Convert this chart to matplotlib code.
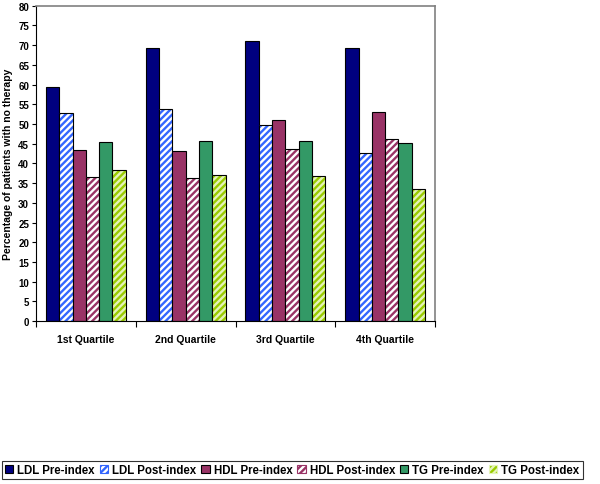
import numpy as np
import matplotlib.pyplot as plt
from matplotlib.patches import Patch

# --- Data ---
quartiles = ["1st Quartile", "2nd Quartile", "3rd Quartile", "4th Quartile"]
series = ["LDL Pre-index", "LDL Post-index", "HDL Pre-index",
          "HDL Post-index", "TG Pre-index", "TG Post-index"]
ldl_pre = [59.3, 69.2, 71.0, 69.4]
ldl_post = [52.9, 53.7, 49.8, 42.7]
hdl_pre = [43.4, 43.2, 50.9, 53.1]
hdl_post = [36.5, 36.2, 43.6, 46.1]
tg_pre = [45.5, 45.7, 45.6, 45.3]
tg_post = [38.4, 37.0, 36.8, 33.6]
values = [ldl_pre, ldl_post, hdl_pre, hdl_post, tg_pre, tg_post]

# (face colour, hatch colour or None)
styles = [
    ("#000080", None),
    ("white", "#3366FF"),
    ("#993366", None),
    ("white", "#993366"),
    ("#339966", None),
    ("#99CC00", "#E4F3B8"),
]

plt.rcParams['font.family'] = ['Liberation Sans', 'DejaVu Sans']
plt.rcParams['hatch.linewidth'] = 1.7

fig = plt.figure(figsize=(6, 4.85), dpi=100)
ax = fig.add_axes([0.06, 0.336, 0.665, 0.65])

x = np.arange(len(quartiles))
w = 0.8 / len(series)
handles = []
for i, (vals, (fc, hc)) in enumerate(zip(values, styles)):
    pos = x - 0.4 + w * (i + 0.5)
    if hc is None:
        ax.bar(pos, vals, w, color=fc, edgecolor="black", linewidth=0.8)
        handles.append(Patch(facecolor=fc, edgecolor="black", linewidth=0.8))
    else:
        ax.bar(pos, vals, w, color=fc, edgecolor=hc, hatch="/////", linewidth=0)
        ax.bar(pos, vals, w, fill=False, edgecolor="black", linewidth=0.8)
        handles.append(Patch(facecolor=fc, edgecolor=hc, hatch="/////", linewidth=0.8))

ax.set_xlim(-0.5, len(quartiles) - 0.5)
ax.set_ylim(0, 80)
ax.set_yticks(np.arange(0, 81, 5))
ax.tick_params(axis="y", labelsize=7, length=3, width=0.8, pad=2)
for lab in ax.get_yticklabels():
    lab.set_fontweight("bold")

ax.set_xticks(x)
ax.set_xticklabels(quartiles, fontsize=7.5, fontweight="bold")
ax.tick_params(axis="x", length=0, pad=9)
ax.set_xticks(np.arange(-0.5, len(quartiles) + 0.5, 1), minor=True)
ax.tick_params(axis="x", which="minor", length=4, width=0.8)

ax.set_ylabel("Percentage of patients with no therapy", fontsize=7.5,
              fontweight="bold", labelpad=4)

for side in ["top", "right"]:
    ax.spines[side].set_color("#808080")
    ax.spines[side].set_linewidth(1.2)
ax.spines["left"].set_linewidth(0.8)
ax.spines["bottom"].set_linewidth(0.8)

leg = fig.legend(handles, series, loc="center",
                 bbox_to_anchor=(0.487, 1 - 471 / 485),
                 bbox_transform=fig.transFigure, ncol=6,
                 prop={"weight": "bold", "size": 8.3},
                 frameon=True, fancybox=False, edgecolor="black",
                 handlelength=0.7, handleheight=0.7, handletextpad=0.35,
                 columnspacing=0.45, borderpad=0.3)
leg.get_frame().set_linewidth(0.8)

fig.savefig("out.png", dpi=100)
